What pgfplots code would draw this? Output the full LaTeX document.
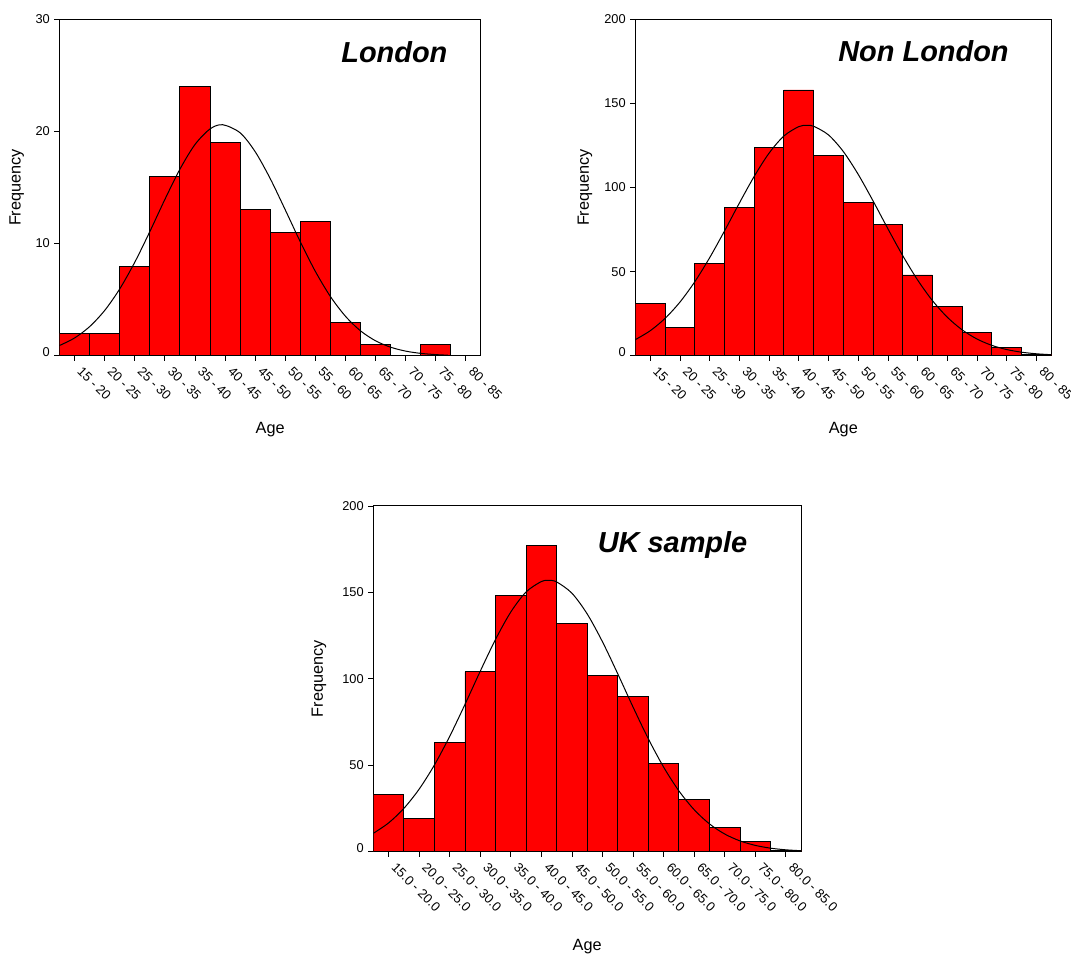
\documentclass[border=0pt]{standalone}
\usepackage{fontspec}
\setmainfont{Liberation Sans}
\usepackage{pgfplots}
\pgfplotsset{compat=1.18}

\pgfplotsset{
  histo/.style={
    scale only axis,
    anchor=south west,
    xmin=0, xmax=14,
    ymin=0,
    axis line style={line width=0.75pt},
    tick style={line width=0.6pt, black},
    tick align=outside,
    tick pos=left,
    major tick length=3.75pt,
    xtick={0.5,1.5,...,13.5},
    xticklabel style={xshift=6.5pt, yshift=-1.5pt, rotate=-45, anchor=north west, font=\fontsize{9.8}{11}\selectfont, inner sep=1.5pt},
    yticklabel style={font=\fontsize{9.6}{11}\selectfont},
    label style={font=\fontsize{12.2}{14}\selectfont},
    xlabel=Age, ylabel=Frequency,
  },
  bars/.style={ybar, bar width=1, bar shift=0pt, fill=red, draw=black, line width=0.7pt},
  curve/.style={black, line width=0.75pt, smooth, mark=none},
}
\tikzset{ttl/.style={anchor=base east, inner sep=0pt, font=\fontsize{21.7}{24}\selectfont\bfseries\itshape}}

\begin{document}
\begin{tikzpicture}
\useasboundingbox (0,0) rectangle (803.25pt,717pt);

% ---------------- London ----------------
\begin{axis}[histo,
  at={(44.6pt,450.2pt)}, width=316.1pt, height=252.3pt,
  ymax=30, ytick={0,10,20,30}, yticklabels={\raisebox{5.3pt}{0},10,20,30},
  xticklabels={15 - 20,20 - 25,25 - 30,30 - 35,35 - 40,40 - 45,45 - 50,50 - 55,55 - 60,60 - 65,65 - 70,70 - 75,75 - 80,80 - 85},
  ylabel style={at={(axis description cs:-0.1015,0.5)}, anchor=center},
  xlabel style={at={(axis description cs:0.5,-0.219)}, anchor=center},
]
\addplot[bars] coordinates {(0.5,2) (1.5,2) (2.5,8) (3.5,16) (4.5,24) (5.5,19) (6.5,13) (7.5,11) (8.5,12) (9.5,3) (10.5,1) (12.5,1)};
\addplot[curve] coordinates {(0,0.91) (0.5,1.58) (1,2.59) (1.5,4.03) (2,5.95) (2.5,8.33) (3,11.06) (3.5,13.93) (4,16.63) (4.5,18.83) (5,20.22) (5.42,20.6) (6,19.88) (6.5,18.20) (7,15.80) (7.5,13.01) (8,10.16) (8.5,7.52) (9,5.28) (9.5,3.52) (10,2.22) (10.5,1.33) (11,0.76) (11.5,0.41) (12,0.21) (12.5,0.10) (12.9,0.05)};
\node[ttl] at (rel axis cs:0.921,0.871) {London};
\end{axis}

% ---------------- Non London ----------------
\begin{axis}[histo,
  at={(476.5pt,450.2pt)}, width=312pt, height=252.3pt,
  ymax=200, ytick={0,50,100,150,200}, yticklabels={\raisebox{5.3pt}{0},50,100,150,200},
  xticklabels={15 - 20,20 - 25,25 - 30,30 - 35,35 - 40,40 - 45,45 - 50,50 - 55,55 - 60,60 - 65,65 - 70,70 - 75,75 - 80,80 - 85},
  ylabel style={at={(axis description cs:-0.121,0.5)}, anchor=center},
  xlabel style={at={(axis description cs:0.5,-0.219)}, anchor=center},
]
\addplot[bars] coordinates {(0.5,31) (1.5,17) (2.5,55) (3.5,88) (4.5,124) (5.5,158) (6.5,119) (7.5,91) (8.5,78) (9.5,48) (10.5,29) (11.5,14) (12.5,5) (13.5,1)};
\addplot[curve] coordinates {(0,9.55) (0.5,14.85) (1,22.19) (1.5,31.86) (2,43.95) (2.5,58.24) (3,74.15) (3.5,90.72) (4,106.62) (4.5,120.42) (5,130.65) (5.5,136.20) (5.77,137) (6,136.42) (6.5,131.28) (7,121.38) (7.5,107.83) (8,92.04) (8.5,75.47) (9,59.46) (9.5,45.01) (10,32.74) (10.5,22.88) (11,15.36) (11.5,9.91) (12,6.14) (12.5,3.66) (13,2.09) (13.5,1.15) (14,0.61)};
\node[ttl] at (rel axis cs:0.898,0.876) {Non London};
\end{axis}

% ---------------- UK sample ----------------
\begin{axis}[histo,
  at={(280pt,78.2pt)}, width=320.8pt, height=259.3pt,
  ymax=200, ytick={0,50,100,150,200}, yticklabels={\raisebox{5.3pt}{0},50,100,150,200},
  xticklabels={15.0 - 20.0,20.0 - 25.0,25.0 - 30.0,30.0 - 35.0,35.0 - 40.0,40.0 - 45.0,45.0 - 50.0,50.0 - 55.0,55.0 - 60.0,60.0 - 65.0,65.0 - 70.0,70.0 - 75.0,75.0 - 80.0,80.0 - 85.0},
  ylabel style={at={(axis description cs:-0.127,0.5)}, anchor=center},
  xlabel style={at={(axis description cs:0.5,-0.275)}, anchor=center},
]
\addplot[bars] coordinates {(0.5,33) (1.5,19) (2.5,63) (3.5,104) (4.5,148) (5.5,177) (6.5,132) (7.5,102) (8.5,90) (9.5,51) (10.5,30) (11.5,14) (12.5,6) (13.5,1)};
\addplot[curve] coordinates {(0,10.65) (0.5,16.68) (1,25.09) (1.5,36.23) (2,50.20) (2.5,66.77) (3,85.24) (3.5,104.45) (4,122.85) (4.5,138.69) (5,150.29) (5.5,156.32) (5.73,157) (6,156.07) (6.5,149.55) (7,137.56) (7.5,121.45) (8,102.92) (8.5,83.72) (9,65.36) (9.5,48.98) (10,35.23) (10.5,24.33) (11,16.12) (11.5,10.25) (12,6.26) (12.5,3.67) (13,2.06) (13.5,1.11) (14,0.58)};
\node[ttl] at (rel axis cs:0.875,0.865) {UK sample};
\end{axis}
\end{tikzpicture}
\end{document}
